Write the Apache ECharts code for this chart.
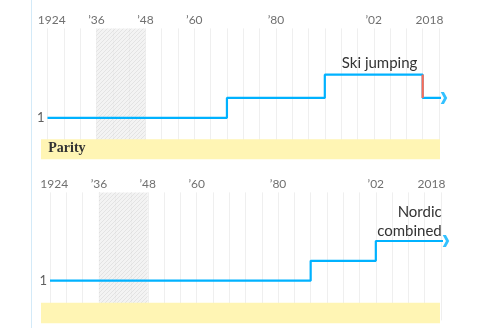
<!DOCTYPE html>
<html><head><meta charset="utf-8">
<script src="https://cdn.jsdelivr.net/npm/echarts@6/dist/echarts.min.js"></script>
<style>html,body{margin:0;padding:0;background:#fff}#c{width:484px;height:328px}</style>
</head><body><div id="c"></div>
<script>
// ---- data ----
const GAMES = ['1924','1928','1932','1936','1940','1944','1948','1952','1956','1960','1964','1968','1972','1976','1980','1984','1988','1992','1994','1998','2002','2006','2010','2014','2018'];
const TICK_LABELS = {'1924':'1924','1936':'\u201936','1948':'\u201948','1960':'\u201960','1980':'\u201980','2002':'\u201902','2018':'2018'};
const CANCELLED = ['1940','1944'];
const SKI_JUMPING = [1,1,1,1,null,null,1,1,1,1,1,2,2,2,2,2,2,3.17,3.17,3.17,3.17,3.17,3.17,2,2];
const NORDIC_COMBINED = [1,1,1,1,null,null,1,1,1,1,1,1,1,1,1,1,2,2,2,2,3,3,3,3,3];
const Y_LABELS = [1];
const PANEL_NAMES = ['Ski jumping', 'Nordic\ncombined'];
const PARITY_LABEL = 'Parity';

// ---- style ----
const BLUE = '#00b2ff', RED = '#ff6b55', GRID = '#efefef', YELLOW = '#fff5b4';
const ARROW_EXT = 0.5;

function pairs(arr){
  const out = [];
  arr.forEach((v,i)=>{ if(v!=null) out.push([i,v]); });
  const last = out[out.length-1];
  out.push([last[0]+ARROW_EXT, last[1]]);
  return out;
}
function drops(arr){
  const segs = [];
  let prev = null;
  arr.forEach((v,i)=>{ if(v==null) return; if(prev!=null && v<prev) segs.push([[i,prev],[i,v]]); prev=v; });
  return segs;
}
function lastMaxIdx(arr){
  let m=-Infinity, k=0; arr.forEach((v,i)=>{ if(v!=null && v>=m){m=v;k=i;} }); return [k,m];
}

// hatch pattern
const pc = document.createElement('canvas');
pc.width = 4; pc.height = 4;
const g = pc.getContext('2d');
g.fillStyle = '#eeeeee'; g.fillRect(0,0,4,4);
g.strokeStyle = '#d6d6d6'; g.lineWidth = 1;
g.beginPath(); g.moveTo(0,4); g.lineTo(4,0); g.moveTo(-1,1); g.lineTo(1,-1); g.moveTo(3,5); g.lineTo(5,3); g.stroke();

const CHEVRON = 'path://M0,0L3,0L6,6L3,12L0,12L3,6Z';

const grids = [
  {left:47.5, right:45, top:28.4, bottom:170.5},
  {left:50, right:43, top:192.4, bottom:7.6}
];
const yMax = [5.5, 5.45];
const panels = [SKI_JUMPING, NORDIC_COMBINED];
const labelOffsets = [[11,-11.7],[0.7,-19.6]];

const xAxes = grids.map((gr,i)=>({
  type:'value', gridIndex:i, min:0, max:GAMES.length-1, interval:1, position:'top',
  axisLine:{show:false}, axisTick:{show:false},
  splitLine:{show:true, lineStyle:{color:GRID, width:1}},
  axisLabel:{margin:2, fontSize:12, color:'#707070', fontFamily:'Lato',
    formatter:(v)=>{
      const y = GAMES[Math.round(v)];
      if(!(y in TICK_LABELS)) return '';
      const t = TICK_LABELS[y];
      if(Math.round(v)===0) return '{f|'+t+'}';
      if(Math.round(v)===GAMES.length-1) return '{l|'+t+'}';
      return t;
    },
    rich:{ f:{padding:[0,0,0,8.5], fontSize:12, color:'#707070', fontFamily:'Lato'},
           l:{padding:[0,19,0,0], fontSize:12, color:'#707070', fontFamily:'Lato'} }
  }
}));
const yAxes = grids.map((gr,i)=>({
  type:'value', gridIndex:i, min:-1, max:yMax[i], interval:1,
  axisLine:{show:false}, axisTick:{show:false}, splitLine:{show:false},
  axisLabel:{margin:3, fontSize:13, color:'#606060', fontFamily:'Lato',
    formatter:(v)=> Y_LABELS.includes(v) ? String(v) : ''}
}));

const series = [];
panels.forEach((arr,i)=>{
  const [mi, mv] = lastMaxIdx(arr);
  series.push({
    type:'line', xAxisIndex:i, yAxisIndex:i, data:pairs(arr), step:'end',
    symbol:'none', clip:false, silent:true, z:2,
    lineStyle:{color:BLUE, width:2.2},
    markPoint:{ silent:true, symbol:'circle', symbolSize:0,
      data:[{coord:[mi,mv], value:PANEL_NAMES[i]}],
      label:{show:true, position:'inside', formatter:PANEL_NAMES[i], align:'right', verticalAlign:'middle',
        offset:labelOffsets[i], fontSize:15, lineHeight:19.5, color:'#333', fontFamily:'Lato'} }
  });
  drops(arr).forEach(seg=>{
    series.push({type:'line', xAxisIndex:i, yAxisIndex:i, data:seg, symbol:'none', clip:false, silent:true, z:4,
      lineStyle:{color:RED, width:2.2}});
  });
  const p = pairs(arr); const end = p[p.length-1];
  series.push({type:'scatter', xAxisIndex:i, yAxisIndex:i, data:[end], symbol:CHEVRON, symbolSize:[6.5,12],
    symbolOffset:[-3.2,0], itemStyle:{color:BLUE}, clip:false, silent:true, z:4});
  const c0 = GAMES.indexOf(CANCELLED[0]) - 1, c1 = GAMES.indexOf(CANCELLED[CANCELLED.length-1]) + 1;
  series.push({type:'line', xAxisIndex:i, yAxisIndex:i, data:[], z:3, silent:true,
    markArea:{silent:true, itemStyle:{color:{image:pc, repeat:'repeat'}, opacity:0.68},
      data:[[{xAxis:c0},{xAxis:c1}]]}});
});

const chart = echarts.init(document.getElementById('c'), null, {renderer:'canvas'});
chart.setOption({
  animation:false,
  textStyle:{fontFamily:'Lato'},
  grid:grids, xAxis:xAxes, yAxis:yAxes, series:series,
  graphic:[
    {type:'rect', z:10, shape:{x:41, y:139.3, width:399, height:20}, style:{fill:YELLOW}},
    {type:'rect', z:10, shape:{x:41, y:302.7, width:399, height:20.6}, style:{fill:YELLOW}},
    {type:'text', z:11, left:48.3, top:141, style:{text:PARITY_LABEL, font:'bold 14px "Liberation Serif"', fill:'#333'}},
    {type:'line', z:11, shape:{x1:31.5, y1:0, x2:31.5, y2:328}, style:{stroke:'#d3eaf8', lineWidth:1}}
  ]
});
</script></body></html>
